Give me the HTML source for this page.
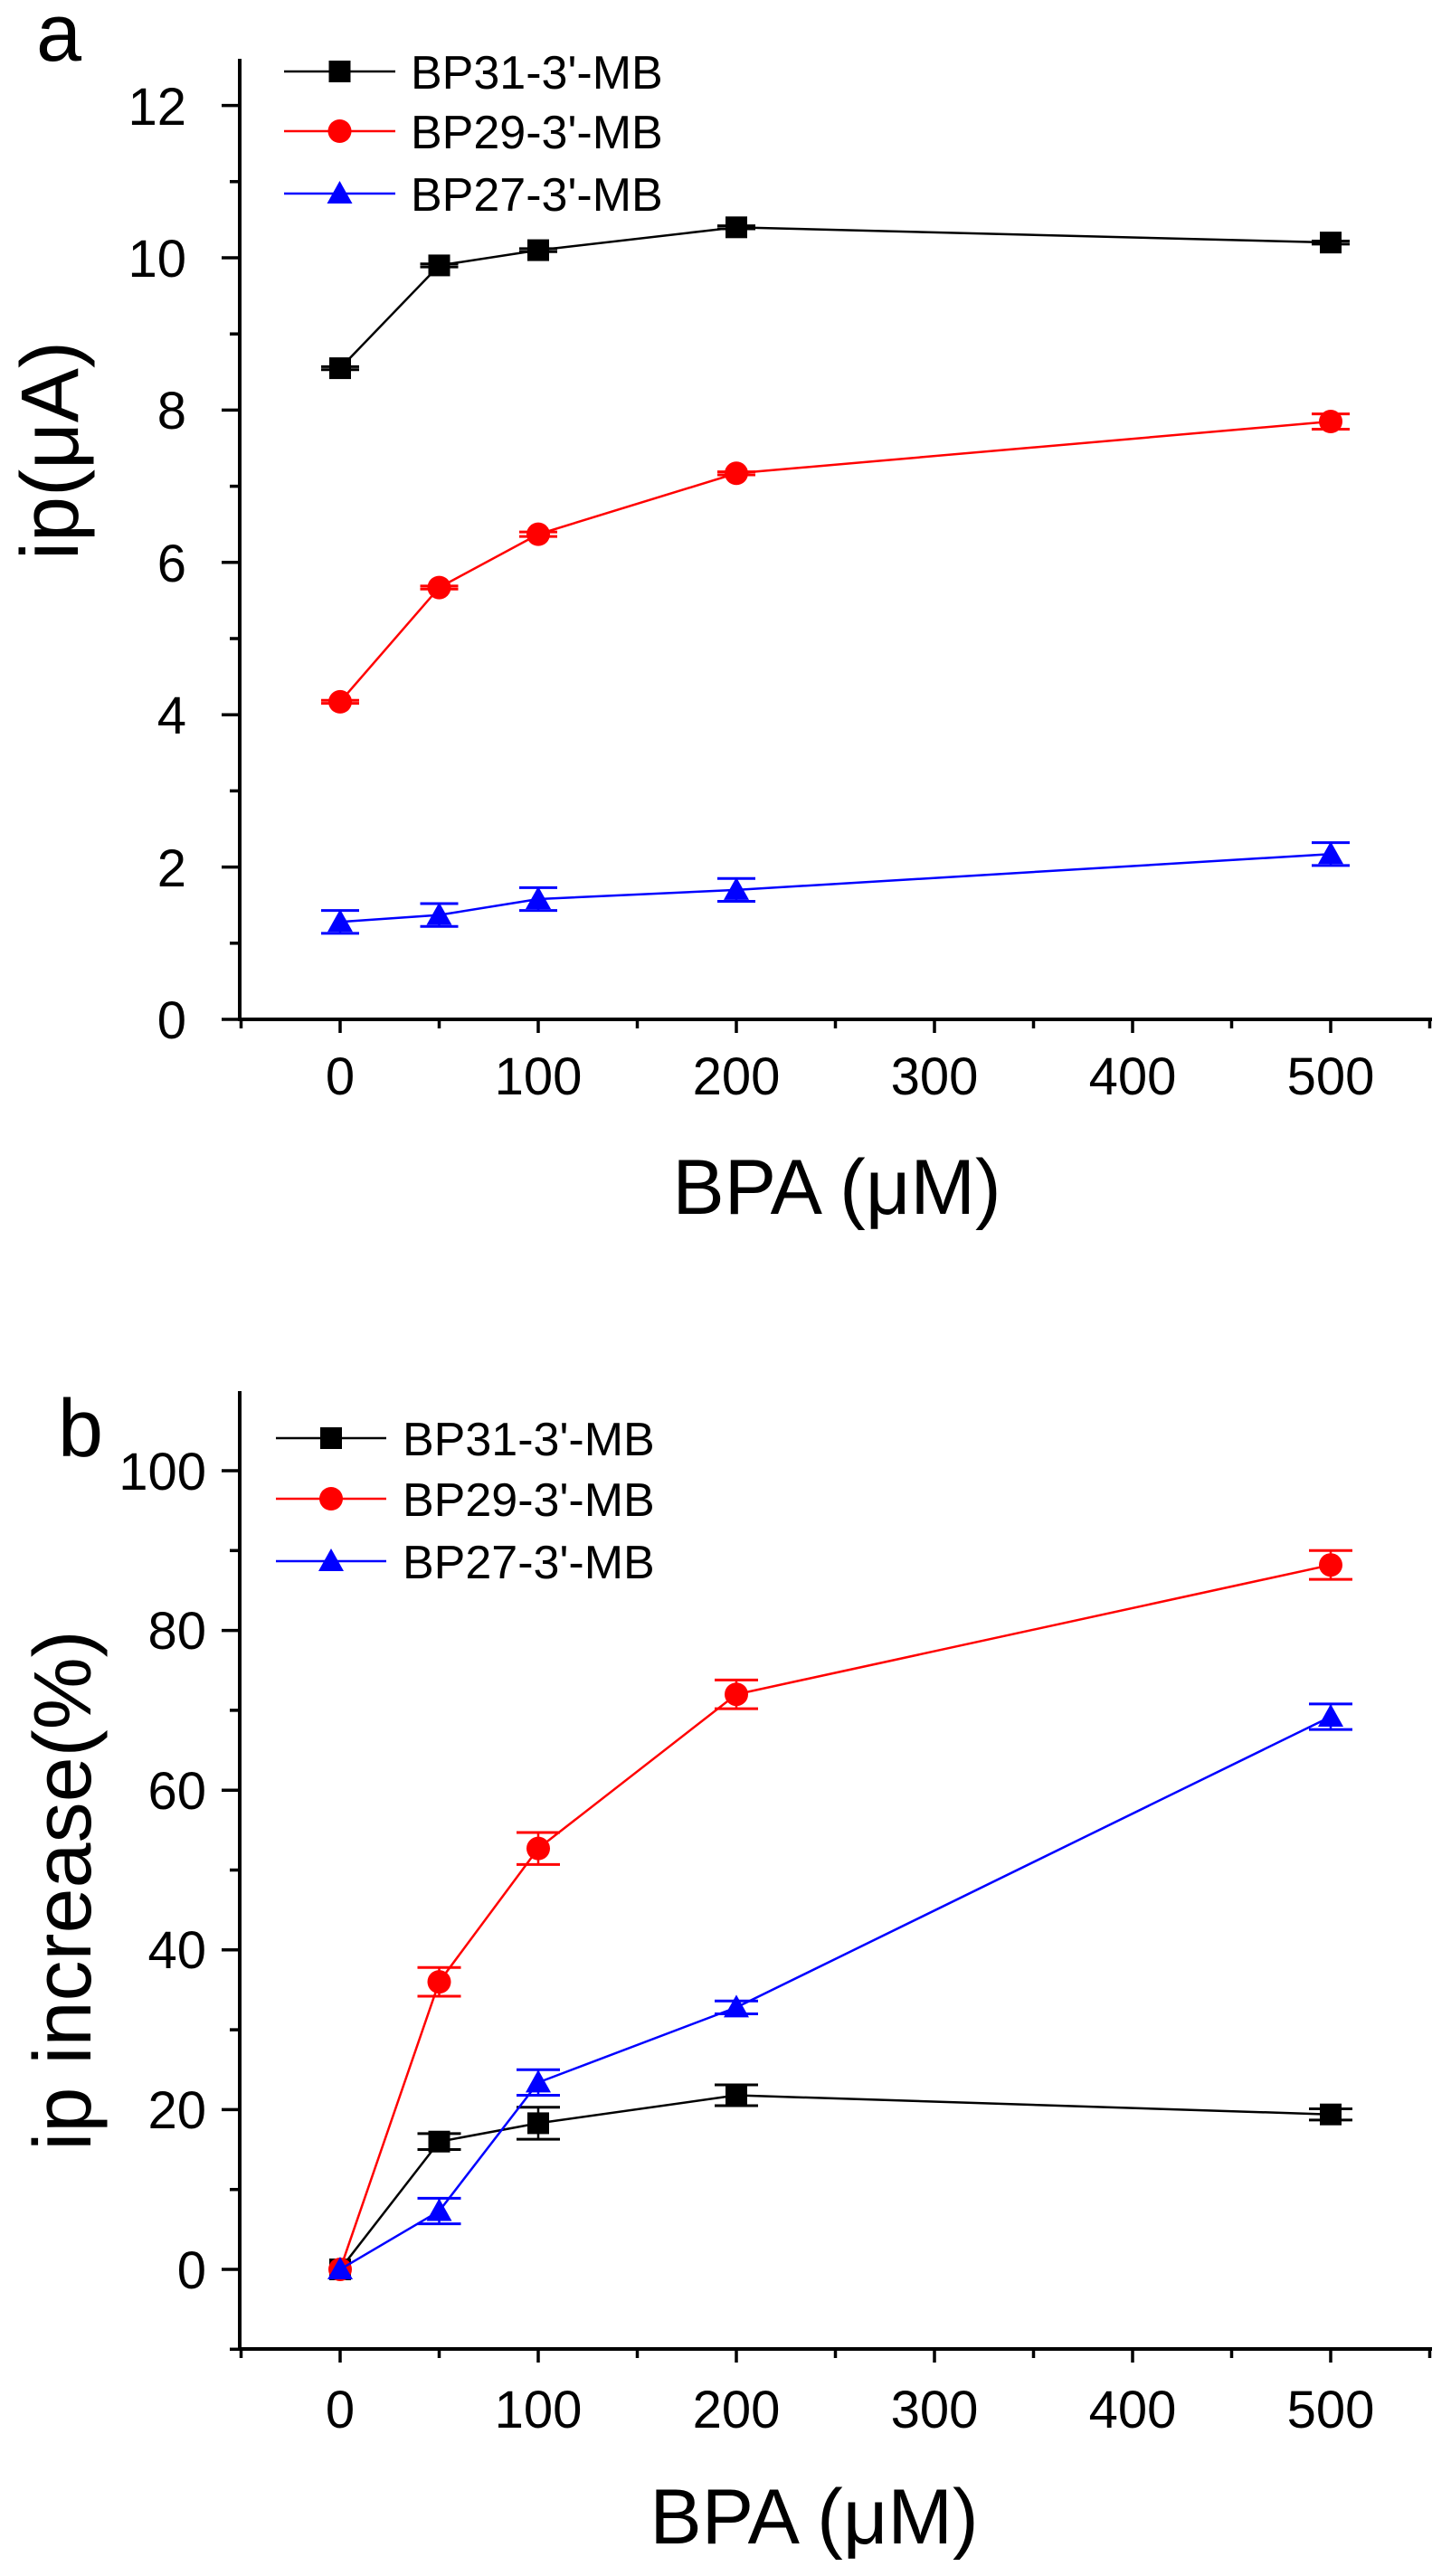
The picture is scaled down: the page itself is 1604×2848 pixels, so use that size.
<!DOCTYPE html>
<html><head><meta charset="utf-8"><style>
html,body{margin:0;padding:0;background:#fff;}
svg{display:block;}
text{font-family:"Liberation Sans",Arial,sans-serif;fill:#000;}
</style></head><body>
<svg id="s" width="1604" height="2848" viewBox="0 0 1604 2848" xmlns="http://www.w3.org/2000/svg">
<rect width="1604" height="2848" fill="#fff"/>
<g id="g"></g>
<!-- panel a text -->
<text x="40" y="67" font-size="90">a</text>
<g font-size="58" text-anchor="end">
<text x="206" y="1148">0</text><text x="206" y="980">2</text><text x="206" y="811">4</text>
<text x="206" y="643">6</text><text x="206" y="474">8</text><text x="206" y="306">10</text><text x="206" y="138">12</text>
</g>
<g font-size="58" text-anchor="middle">
<text x="376" y="1210">0</text><text x="595" y="1210">100</text><text x="814" y="1210">200</text>
<text x="1033" y="1210">300</text><text x="1252" y="1210">400</text><text x="1471" y="1210">500</text>
</g>
<text x="925" y="1342" font-size="86" text-anchor="middle">BPA (μM)</text>
<text transform="translate(86,498) rotate(-90)" font-size="90" text-anchor="middle">ip(μA)</text>
<g font-size="52">
<text x="454" y="98">BP31-3'-MB</text><text x="454" y="164">BP29-3'-MB</text><text x="454" y="233">BP27-3'-MB</text>
</g>
<!-- panel b text -->
<text x="64" y="1610" font-size="90">b</text>
<g font-size="58" text-anchor="end">
<text x="228" y="2530">0</text><text x="228" y="2353">20</text><text x="228" y="2176">40</text>
<text x="228" y="2000">60</text><text x="228" y="1823">80</text><text x="228" y="1647">100</text>
</g>
<g font-size="58" text-anchor="middle">
<text x="376" y="2684">0</text><text x="595" y="2684">100</text><text x="814" y="2684">200</text>
<text x="1033" y="2684">300</text><text x="1252" y="2684">400</text><text x="1471" y="2684">500</text>
</g>
<text x="900" y="2812" font-size="86" text-anchor="middle">BPA (μM)</text>
<text transform="translate(100,2090) rotate(-90)" font-size="90" text-anchor="middle">ip increase(%)</text>
<g font-size="52">
<text x="445" y="1609">BP31-3'-MB</text><text x="445" y="1676">BP29-3'-MB</text><text x="445" y="1745">BP27-3'-MB</text>
</g>
</svg>
<script>
var g=document.getElementById('g'),NS='http://www.w3.org/2000/svg';
function el(t,a){var e=document.createElementNS(NS,t);for(var k in a)e.setAttribute(k,a[k]);g.appendChild(e);return e;}
function line(x1,y1,x2,y2,c,w){el('line',{x1:x1,y1:y1,x2:x2,y2:y2,stroke:c,'stroke-width':w});}
function X(v){return 376+v*2.19;}
function marker(type,x,y,c){
 if(type==0)el('rect',{x:x-12,y:y-12,width:24,height:24,fill:c});
 else if(type==1)el('circle',{cx:x,cy:y,r:13,fill:c});
 else el('polygon',{points:(x)+','+(y-14)+' '+(x-14)+','+(y+11)+' '+(x+14)+','+(y+11),fill:c});
}
function panel(Y,yTop,yBot,majors,minors,series,legY,legX1,legX2,capW){
 line(265,yTop,265,yBot+2,'#000',4);
 line(263,yBot,1583,yBot,'#000',4);
 majors.forEach(function(v){line(245,Y(v),265,Y(v),'#000',3.5);});
 minors.forEach(function(v){line(254,Y(v),265,Y(v),'#000',3.5);});
 for(var v=-50;v<=550;v+=50){line(X(v),yBot,X(v),yBot+(v%100==0?15:10),'#000',3.5);}
 var xs=[0,50,100,200,500];
 series.forEach(function(s,i){
  var pts=xs.map(function(x,j){return X(x)+','+Y(s.d[j]);}).join(' ');
  el('polyline',{points:pts,fill:'none',stroke:s.c,'stroke-width':2.5});
  xs.forEach(function(x,j){
   var e=s.e[j],cx=X(x),cy=Y(s.d[j]);
   if(e>0){var t=Y(s.d[j]+e),b=Y(s.d[j]-e);
    line(cx,t,cx,b,s.c,2.5);line(cx-capW,t,cx+capW,t,s.c,3);line(cx-capW,b,cx+capW,b,s.c,3);}
   marker(i,cx,cy,s.c);
  });
  line(legX1,legY[i],legX2,legY[i],s.c,2.5);
  marker(i,(legX1+legX2)/2,legY[i],s.c);
 });
}
panel(function(v){return 1127-v*84.2;},65,1127,[0,2,4,6,8,10,12],[1,3,5,7,9,11],
 [{c:'#000',d:[8.55,9.9,10.1,10.4,10.2],e:[0.02,0.02,0.02,0.02,0.02]},
  {c:'#f00',d:[4.17,5.67,6.37,7.17,7.85],e:[0.02,0.02,0.03,0.02,0.1]},
  {c:'#00f',d:[1.28,1.37,1.58,1.70,2.17],e:[0.15,0.15,0.15,0.15,0.15]}],
 [79,145,214],314,437,21);
panel(function(v){return 2509-v*8.83;},1538,2597,[0,20,40,60,80,100],[-10,10,30,50,70,90],
 [{c:'#000',d:[0,16,18.3,21.8,19.4],e:[0,1,2,1.3,0.7]},
  {c:'#f00',d:[0,36,52.7,72,88.2],e:[0,1.8,2,1.8,1.8]},
  {c:'#00f',d:[0,7.3,23.4,32.8,69.2],e:[0,1.6,1.6,0.8,1.6]}],
 [1590,1657,1726],305,427,24);
</script>
</body></html>
